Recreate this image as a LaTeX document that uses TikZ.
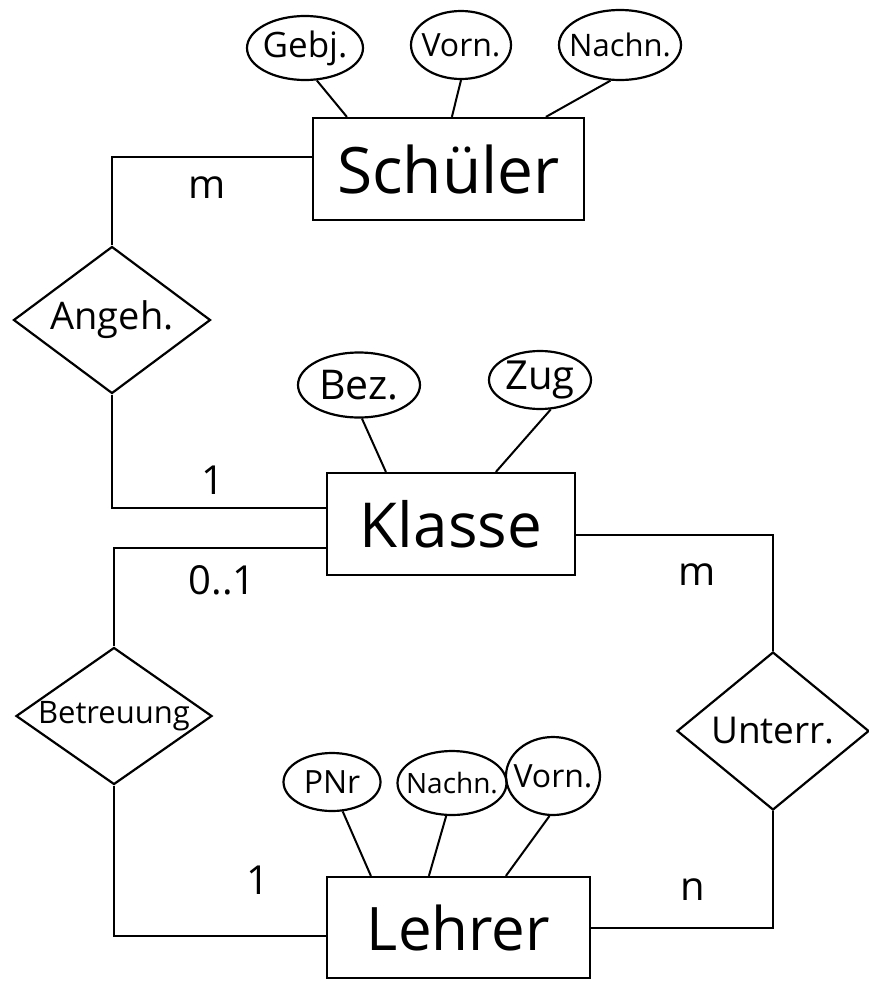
\documentclass[tikz,border=0pt]{standalone}
\usepackage{fontspec}
\setmainfont{Open Sans}
\usetikzlibrary{shapes.geometric}
\newcommand{\fs}[1]{\fontsize{#1}{#1}\selectfont}
\begin{document}
\begin{tikzpicture}[x=1pt,y=-1pt,line width=2.2pt,
  entity/.style={draw, rectangle, inner sep=0pt},
  attr/.style={draw, ellipse, inner sep=0pt},
  rel/.style={draw, diamond, inner sep=0pt},
  txt/.style={inner sep=0pt},
  card/.style={inner sep=0pt, font=\fs{40}},
  conn/.style={line width=2pt}]
\useasboundingbox (0,0) rectangle (868,983);

% entities
\node[entity, font=\fs{64}, minimum width=271pt, minimum height=102pt] (schueler) at (448.5,169) {Schüler};
\node[entity, font=\fs{62}, minimum width=248pt, minimum height=102pt] (klasse) at (451,524) {Klasse};
\node[entity, font=\fs{60}, minimum width=263pt, minimum height=101pt] (lehrer) at (458.5,927.5) {Lehrer};

% attributes of Schueler
\node[attr, minimum width=116pt, minimum height=64pt] (gebj) at (305,48) {};
\node[txt, font=\fs{35}] (gebjT) at (gebj) {Gebj.};
\node[attr, minimum width=100pt, minimum height=68pt] (vorn1) at (461,45) {};
\node[txt, font=\fs{32}] (vorn1T) at (vorn1) {Vorn.};
\node[attr, minimum width=122pt, minimum height=70pt] (nachn1) at (620,45) {};
\node[txt, font=\fs{31}] (nachn1T) at (nachn1) {Nachn.};

% attributes of Klasse
\node[attr, minimum width=122pt, minimum height=65pt] (bez) at (359,385) {};
\node[txt, font=\fs{41}] (bezT) at (bez) {Bez.};
\node[attr, minimum width=102pt, minimum height=58pt] (zug) at (540,380) {};
\node[txt, font=\fs{40}] (zugT) at (zug) {Zug};

% attributes of Lehrer
\node[attr, minimum width=97pt, minimum height=58pt] (pnr) at (332,782) {};
\node[txt, font=\fs{32}] (pnrT) at (pnr) {PNr};
\node[attr, minimum width=109pt, minimum height=64pt] (nachn2) at (452,783) {};
\node[txt, font=\fs{28}] (nachn2T) at (nachn2) {Nachn.};
\node[attr, minimum width=94pt, minimum height=78pt] (vorn2) at (553,776) {};
\node[txt, font=\fs{32}] (vorn2T) at (vorn2) {Vorn.};

% relationships
\node[rel, minimum width=197pt, minimum height=147pt] (angeh) at (112,320) {};
\node[txt, font=\fs{38}] (angehT) at (angeh) {Angeh.};
\node[rel, minimum width=196pt, minimum height=137pt] (betr) at (114,716) {};
\node[txt, font=\fs{31}] (betrT) at (betr) {Betreuung};
\node[rel, minimum width=192pt, minimum height=158pt] (unterr) at (773,731) {};
\node[txt, font=\fs{37}] (unterrT) at (unterr) {Unterr.};

% attribute links
\draw[conn] (gebj.-70) -- ([xshift=35pt]schueler.north west);
\draw[conn] (vorn1.south) -- ([xshift=140pt]schueler.north west);
\draw[conn] (nachn1.-105) -- ([xshift=234pt]schueler.north west);
\draw[conn] (bez.-85) -- ([xshift=60pt]klasse.north west);
\draw[conn] (zug.-70) -- ([xshift=170pt]klasse.north west);
\draw[conn] (pnr.-70) -- ([xshift=45pt]lehrer.north west);
\draw[conn] (nachn2.-100) -- ([xshift=103pt]lehrer.north west);
\draw[conn] (vorn2.-95) -- ([xshift=180pt]lehrer.north west);

% relationship links
\draw[conn] ([yshift=12pt]schueler.west) -| (angeh.north);
\draw[conn] (angeh.south) |- ([yshift=16pt]klasse.west);
\draw[conn] ([yshift=-24pt]klasse.west) -| (betr.north);
\draw[conn] (betr.south) |- ([yshift=-8.5pt]lehrer.west);
\draw[conn] ([yshift=-11pt]klasse.east) -| (unterr.north);
\draw[conn] (unterr.south) |- (lehrer.east);

% cardinalities
\node[card] (c1) at (207,188) {m};
\node[card] (c2) at (213,480) {1};
\node[card] (c3) at (222,580) {0..1};
\node[card] (c4) at (258,880) {1};
\node[card] (c5) at (697,575) {m};
\node[card] (c6) at (693,890) {n};
\end{tikzpicture}
\end{document}
